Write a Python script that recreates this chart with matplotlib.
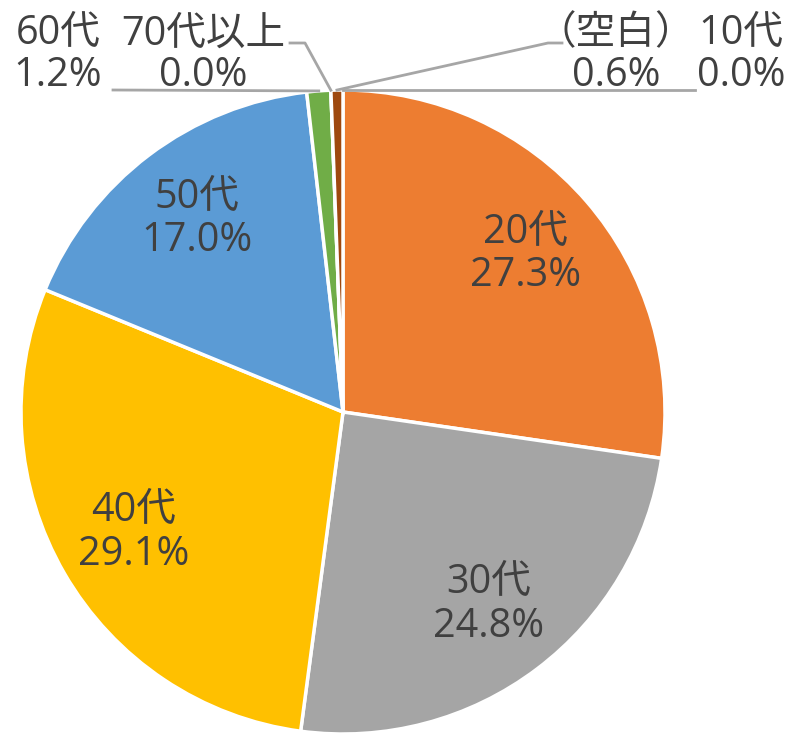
import matplotlib
matplotlib.use("Agg")
import matplotlib.pyplot as plt
import numpy as np

plt.rcParams['font.family'] = ['Open Sans', 'Noto Sans CJK JP', 'DejaVu Sans']

# data, in Excel order (clockwise from 12 o'clock)
categories = ['10代', '20代', '30代', '40代', '50代', '60代', '70代以上', '（空白）']
shares = [0.0, 27.3, 24.8, 29.1, 17.0, 1.2, 0.0, 0.6]
colors = ['#4472C4', '#ED7D31', '#A5A5A5', '#FFC000', '#5B9BD5', '#70AD47', '#264478', '#9E480E']

W, H = 794, 734
cx, cy, R = 343, H - 412, 322
txt_color = '#404040'
line_color = '#A6A6A6'
fs = 28.5


def Y(y):
    # image row -> axes y
    return H - y


fig = plt.figure(figsize=(W / 100, H / 100), dpi=100)
ax = fig.add_axes([0, 0, 1, 1])

wedges, _ = ax.pie(shares, colors=colors, startangle=90, counterclock=False,
                   center=(cx, cy), radius=R,
                   wedgeprops=dict(edgecolor='white', linewidth=2.5))
ax.set_xlim(0, W)
ax.set_ylim(0, H)
ax.set_aspect('equal')
ax.axis('off')

# outer label layout: text centre (image coords) and leader elbow points
outer = {
    '10代': ((741, 55), [(695, 90)]),
    '60代': ((58, 55), [(113, 90)]),
    '70代以上': ((203, 55), [(290, 43), (305, 43)]),
    '（空白）': ((616, 55), [(562, 43), (548, 43)]),
}

for w, cat, val in zip(wedges, categories, shares):
    mid = np.deg2rad((w.theta1 + w.theta2) / 2)
    label = f'{cat}\n{val:.1f}%'
    if cat in outer:
        (tx, ty), pts = outer[cat]
        ax.text(tx, Y(ty), label, ha='center', va='center', fontsize=fs,
                color=txt_color, linespacing=1.05)
        if cat == '10代':
            anchor = (cx, cy + R)
        else:
            anchor = (cx + R * np.cos(mid), cy + R * np.sin(mid))
        xs = [p[0] for p in pts] + [anchor[0]]
        ys = [Y(p[1]) for p in pts] + [anchor[1]]
        ax.plot(xs, ys, color=line_color, lw=2, zorder=5)
    else:
        r = 0.75 * R
        ax.text(cx + r * np.cos(mid), cy + r * np.sin(mid), label,
                ha='center', va='center', fontsize=fs, color=txt_color,
                linespacing=1.1)

fig.savefig('out.png', dpi=100)
